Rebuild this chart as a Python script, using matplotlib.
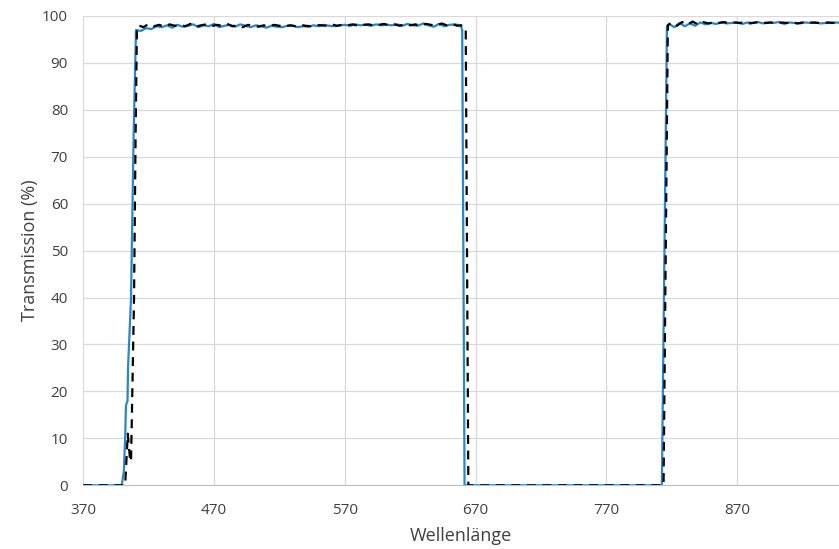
import matplotlib
matplotlib.use("Agg")
import matplotlib.pyplot as plt

plt.rcParams['font.family'] = ['Open Sans', 'DejaVu Sans']

meas_edge_wl = [370, 397, 399.4, 401, 402, 402.6, 403.8, 404.2, 406.5, 408.5, 410.3]
meas_edge_t = [0, 0, 0, 3, 10, 17, 18, 25, 40, 75, 97.0]
meas_top1_wl = list(range(414, 655, 4))          # 61 samples
meas_top1_t = [96.8, 97.4, 97.2, 97.8, 97.6, 98.0, 97.5, 98.1, 97.7, 97.9,
               98.2, 97.6, 98.0, 97.8, 98.3, 97.6, 97.9, 98.1, 97.7, 98.2,
               97.9, 97.6, 98.0, 97.8, 97.5, 97.9, 97.7, 97.6, 97.9, 98.0,
               97.6, 97.8, 97.7, 98.0, 97.8, 98.1, 97.9, 97.8, 98.0, 98.1,
               97.9, 98.2, 98.0, 98.1, 97.9, 98.2, 98.0, 98.1, 98.0, 98.2,
               97.9, 98.3, 98.0, 97.9, 98.4, 98.0, 97.7, 98.3, 97.8, 98.1,
               98.2]
meas_gap_wl = [658.6, 659.8, 661.6, 812.5, 816.4]
meas_gap_t = [98.0, 97.0, 0, 0, 97.8]
meas_top2_wl = list(range(818, 951, 4))          # 34 samples
meas_top2_t = [98.3, 97.6, 98.5, 97.8, 98.4, 97.9, 98.6, 98.2, 98.5, 98.3,
               98.6, 98.4, 98.5, 98.6, 98.3, 98.6, 98.5, 98.7, 98.4, 98.6,
               98.5, 98.7, 98.3, 98.6, 98.5, 98.4, 98.6, 98.5, 98.6, 98.4,
               98.5, 98.5, 98.6, 98.5]

# --- design curve (black dashed) ---
des_edge_wl = [370, 402, 404, 405.6, 406.5, 408.8, 410, 411]
des_edge_t = [0, 0, 11, 6, 5, 40, 75, 97.2]
des_top1_wl = list(range(412, 661, 4))           # 63 samples
des_top1_t = [98.0, 97.6, 98.3, 97.8, 98.1, 97.7, 98.2, 97.9, 98.1, 97.8,
              98.3, 97.7, 98.0, 98.2, 97.8, 98.1, 97.9, 98.3, 97.8, 98.0,
              97.6, 98.1, 97.9, 97.7, 98.0, 97.8, 98.1, 97.9, 97.7, 98.0,
              97.8, 98.1, 97.9, 97.8, 98.1, 98.0, 97.9, 98.2, 97.9, 98.1,
              98.0, 98.2, 97.9, 98.1, 98.2, 98.0, 98.1, 98.3, 98.0, 98.2,
              97.9, 98.3, 98.0, 98.2, 97.9, 98.3, 98.1, 97.9, 98.4, 98.0,
              98.3, 97.9, 98.0]
des_gap_wl = [662.5, 664.5, 813.8, 817.1]
des_gap_t = [97.2, 0, 0, 98.0]
des_top2_wl = list(range(820, 949, 4))           # 33 samples
des_top2_t = [98.6, 97.9, 98.7, 98.1, 98.8, 98.2, 98.7, 98.4, 98.6, 98.5,
              98.7, 98.4, 98.6, 98.5, 98.7, 98.4, 98.6, 98.7, 98.5, 98.6,
              98.4, 98.6, 98.5, 98.7, 98.4, 98.6, 98.5, 98.6, 98.5, 98.5,
              98.6, 98.5, 98.5]

x_ticks = [370, 470, 570, 670, 770, 870]
y_ticks = [0, 10, 20, 30, 40, 50, 60, 70, 80, 90, 100]

wl_meas = meas_edge_wl + meas_top1_wl + meas_gap_wl + meas_top2_wl
t_meas = meas_edge_t + meas_top1_t + meas_gap_t + meas_top2_t
wl_des = des_edge_wl + des_top1_wl + des_gap_wl + des_top2_wl
t_des = des_edge_t + des_top1_t + des_gap_t + des_top2_t

fig = plt.figure(figsize=(8.39, 5.49), dpi=100)
ax = fig.add_axes([0.0993, 0.116, 0.9007, 0.855])

ax.plot(wl_meas, t_meas, color='#2b86c8', lw=1.6, zorder=3)
ax.plot(wl_des, t_des, color='black', lw=1.6, ls=(0, (4, 3)), zorder=4)

ax.set_xlim(370, 948)
ax.set_ylim(0, 100)
ax.set_xticks(x_ticks)
ax.set_yticks(y_ticks)
ax.grid(True, color='#d9d9d9', lw=0.9)
ax.set_axisbelow(True)
for s in ['top', 'right', 'left']:
    ax.spines[s].set_visible(False)
ax.spines['bottom'].set_color('#bfbfbf')
ax.tick_params(length=0, labelsize=11, colors='#404040')
ax.tick_params(axis='x', pad=13)
ax.tick_params(axis='y', pad=11)

ax.set_xlabel('Wellenlänge', fontsize=13, color='#404040', labelpad=6)
ax.set_ylabel('Transmission (%)', fontsize=13, color='#404040', labelpad=2)

fig.savefig('out.png', dpi=100)
